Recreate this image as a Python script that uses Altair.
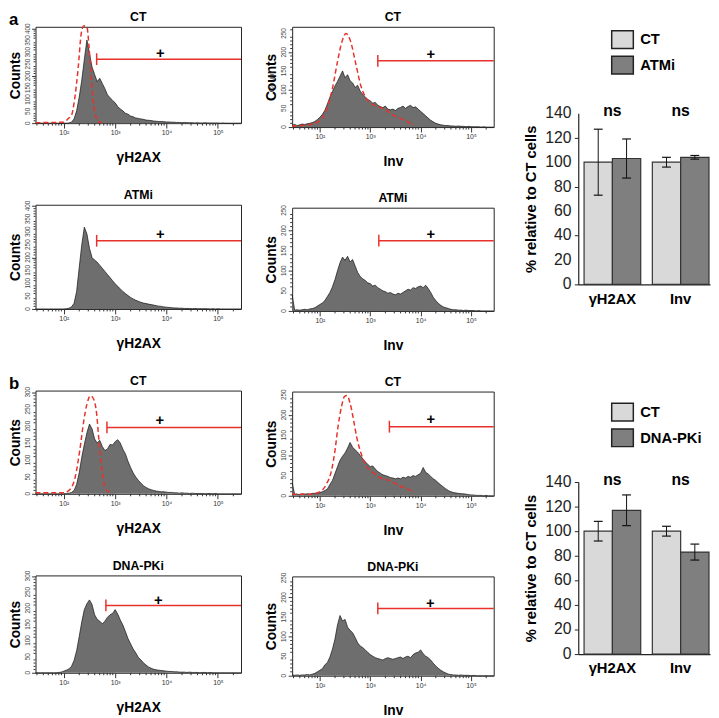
import math
import altair as alt
import pandas as pd

FONT = "Liberation Sans"
RED = "#e8312a"
HIST_FILL = "#6e6e6e"

# fluorescence channels, log10 units
U = [round(1.45 + 0.05 * i, 2) for i in range(81)]

# ---- histogram counts ----
H_A_CT_G = [0,0,0,0,0,0,0,0,0,0,
            0,0,0,1,4,18,52,110,182,270,
            352,296,238,206,176,190,168,146,120,108,
            96,86,70,60,52,42,38,30,27,22,
            20,18,16,13,12,11,9,8,7,7,
            6,5,5,4,4,3,3,2,3,2,
            2,2,1,2,1,1,2,1,1,1,
            1,1,0,1,0,0,0,0,0,0,
            0]
H_A_CT_I = [5,7,4,6,8,7,9,10,12,15,
            20,26,34,45,62,80,95,110,122,136,
            150,132,140,124,118,106,112,96,88,80,
            74,70,64,66,58,55,52,56,48,46,
            48,44,50,52,56,50,55,58,52,54,
            48,42,36,30,24,18,14,10,8,6,
            5,4,4,3,3,2,3,2,2,1,
            2,1,1,1,1,0,1,0,0,0,
            0]
H_A_ATMI_G = [0,0,0,0,0,0,0,0,0,0,
              0,0,1,3,8,22,68,160,250,318,
              292,236,200,190,182,170,158,146,134,122,
              110,98,88,78,68,60,52,45,39,34,
              30,26,23,21,19,17,15,13,11,10,
              8,7,6,5,4,4,3,3,2,2,
              2,1,2,1,1,1,1,1,0,1,
              0,1,0,0,0,0,0,0,0,0,
              0]
H_A_ATMI_I = [40,2,3,2,3,4,3,5,6,8,
              12,16,20,26,36,46,60,78,100,120,
              134,126,136,122,128,112,96,86,80,76,
              70,68,62,64,58,54,50,48,44,46,
              42,40,44,42,46,50,54,52,58,56,
              60,62,58,64,56,46,34,26,19,14,
              10,8,6,4,3,3,2,2,1,2,
              1,1,1,0,1,0,0,0,0,0,
              0]
H_B_CT_G = [0,0,0,0,0,0,0,0,0,0,
            0,0,1,2,4,10,28,62,108,146,
            180,206,192,162,150,158,140,128,132,146,
            144,154,160,150,132,118,96,78,62,50,
            40,32,24,19,15,12,10,8,7,6,
            6,5,4,4,3,3,2,3,2,2,
            1,2,1,1,1,1,0,1,1,0,
            1,0,0,0,0,0,0,0,0,0,
            0]
H_B_CT_I = [33,3,4,3,5,4,5,4,6,6,
            7,8,10,13,17,28,38,55,72,88,
            98,106,118,132,120,114,108,100,92,84,
            78,72,74,66,60,56,52,50,48,45,
            44,42,44,42,46,44,48,46,50,48,
            52,56,70,58,54,48,42,38,32,27,
            22,17,13,10,8,7,6,5,5,4,
            3,2,2,1,1,1,0,1,0,0,
            0]
H_B_PK_G = [0,0,0,0,0,0,0,0,0,1,
            2,5,8,12,20,38,68,112,158,196,
            214,226,212,180,166,160,152,160,172,180,
            184,196,182,164,148,128,106,90,74,62,
            48,40,31,24,18,14,11,9,8,7,
            6,5,4,4,3,3,2,2,2,1,
            2,1,1,1,0,1,1,0,1,0,
            0,0,0,0,0,0,0,0,0,0,
            0]
H_B_PK_I = [2,1,2,1,2,2,3,2,4,6,
            10,14,18,28,34,48,68,94,130,154,
            140,144,124,116,110,98,84,76,72,66,
            60,54,50,46,44,42,40,44,46,44,
            42,44,46,48,44,48,50,46,54,58,
            60,66,56,50,46,40,32,25,19,14,
            10,7,4,3,2,2,1,2,1,1,
            1,0,1,0,0,0,0,0,0,0,
            0]

# ---- dashed control curves ----
C1_U = [1.45, 1.80, 2.00, 2.09, 2.15, 2.21, 2.28, 2.34, 2.39, 2.45, 2.49, 2.52, 2.57, 2.62, 2.69, 2.74]
C1_C = [2, 3, 4, 20, 33, 100, 233, 380, 412, 407, 327, 233, 100, 33, 4, 2]
C2_U = [1.45, 1.70, 1.92, 2.05, 2.15, 2.25, 2.35, 2.44, 2.52, 2.61, 2.71, 2.81, 2.91, 3.04, 3.17, 3.31, 3.44, 3.57, 3.74, 3.87]
C2_C = [3, 5, 11, 25, 54, 104, 175, 229, 250, 229, 171, 112, 79, 61, 54, 46, 33, 25, 14, 6]
C5_U = [1.45, 1.99, 2.12, 2.22, 2.31, 2.39, 2.45, 2.52, 2.58, 2.64, 2.68, 2.73, 2.78, 2.84, 2.94]
C5_C = [3, 3, 13, 48, 127, 216, 265, 290, 280, 236, 166, 87, 33, 10, 3]
C6_U = [1.45, 1.82, 1.97, 2.07, 2.13, 2.23, 2.30, 2.36, 2.43, 2.49, 2.54, 2.60, 2.67, 2.73, 2.82, 2.92, 3.05, 3.21, 3.38, 3.57, 3.74, 3.87]
C6_C = [4, 4, 8, 17, 29, 62, 112, 171, 221, 246, 248, 229, 187, 146, 104, 75, 58, 44, 38, 25, 17, 8]

# ---- bar charts ----
GROUPS = ["γH2AX", "Inv"]
CONDS_A = ["CT", "ATMi"]
MEAN_A = [100, 103, 100, 104]
ERR_A = [27, 16, 4, 1.5]
CONDS_B = ["CT", "DNA-PKi"]
MEAN_B = [100, 117, 100, 83]
ERR_B = [8, 12.5, 4, 6.5]
SIG = ["ns", "ns"]
BAR_TICKS = [0, 20, 40, 60, 80, 100, 120, 140]

U_MIN, U_MAX = 1.45, 5.45
ALL_XTICKS = sorted({round(math.log10(m * 10 ** n), 4) for n in range(1, 6) for m in range(1, 10)
                     if U_MIN <= math.log10(m * 10 ** n) <= U_MAX})
MAJOR_XTICKS = [v for v in ALL_XTICKS if abs(v - round(v)) < 1e-6]
MINOR_XTICKS = [v for v in ALL_XTICKS if abs(v - round(v)) >= 1e-6]
X_LABEL = ("datum.value == 2 ? '10²' : datum.value == 3 ? '10³' : "
           "datum.value == 4 ? '10⁴' : datum.value == 5 ? '10⁵' : ''")

BAR_K = 61  # extra room on the left of the bar plot (keeps column spacing even)


def hist_panel(counts, ymax, title, xtitle, gate_u, gate_c, plus_u, plus_c, width, height,
               cu=None, cc=None, letter=None, extra=None):
    hist = pd.DataFrame({"u": U, "count": counts})
    x_enc = alt.X("u:Q", scale=alt.Scale(domain=[U_MIN, U_MAX], nice=False, zero=False),
                  axis=alt.Axis(values=MAJOR_XTICKS, labelExpr=X_LABEL, labelOverlap=False,
                                labelFlush=False, tickSize=5, labelFontSize=7, labelPadding=1,
                                labelColor="#333", tickColor="#333", domain=False, grid=False,
                                title=xtitle, titleFontSize=14, titleFontWeight="bold", titlePadding=15,
                                titleColor="black", labelFont=FONT, titleFont=FONT))
    ymajor = list(range(0, ymax + 1, 50))
    y_enc = alt.Y("count:Q", scale=alt.Scale(domain=[0, ymax], nice=False),
                  axis=alt.Axis(values=ymajor, labels=False, tickSize=4, tickColor="#333",
                                domain=False, grid=False, title="Counts", titleFontSize=14,
                                titleFontWeight="bold", titlePadding=9, titleColor="black",
                                titleFont=FONT))
    layers = [alt.Chart(hist).mark_area(color=HIST_FILL, opacity=1,
                                        line={"color": "#111", "strokeWidth": 0.7})
              .encode(x=x_enc, y=y_enc)]
    # y tick labels (rotated, small, like the cytometer export)
    layers.append(alt.Chart(pd.DataFrame({"count": ymajor}))
                  .mark_text(fontSize=6.5, font=FONT, angle=270, align="center", baseline="bottom",
                             color="#444")
                  .encode(y="count:Q", text="count:Q", x=alt.value(-5)))
    # minor ticks
    layers.append(alt.Chart(pd.DataFrame({"u": MINOR_XTICKS})).mark_rule(color="#333", strokeWidth=1)
                  .encode(x="u:Q", y=alt.value(height), y2=alt.value(height + 2.5)))
    ymin = [v for v in range(0, ymax + 1, 10) if v % 50 != 0]
    layers.append(alt.Chart(pd.DataFrame({"count": ymin})).mark_rule(color="#333", strokeWidth=1)
                  .encode(y="count:Q", x=alt.value(0), x2=alt.value(-2)))
    if cu is not None:
        layers.append(alt.Chart(pd.DataFrame({"u": cu, "count": cc}))
                      .mark_line(color=RED, strokeDash=[5, 3], strokeWidth=1.5, interpolate="monotone")
                      .encode(x="u:Q", y="count:Q"))
    gate = pd.DataFrame({"u": [gate_u], "u2": [U_MAX], "count": [gate_c]})
    layers.append(alt.Chart(gate).mark_rule(color=RED, strokeWidth=1.5)
                  .encode(x="u:Q", x2="u2:Q", y="count:Q"))
    layers.append(alt.Chart(gate).mark_point(shape="M0,-1L0,1", size=144, color=RED, strokeWidth=1.5,
                                             filled=False, opacity=1)
                  .encode(x="u:Q", y="count:Q"))
    plus = pd.DataFrame({"u": [plus_u], "count": [plus_c], "t": ["+"]})
    layers.append(alt.Chart(plus).mark_text(fontSize=15, fontWeight="bold", font=FONT, color="black")
                  .encode(x="u:Q", y="count:Q", text="t:N"))
    # panel title
    layers.append(alt.Chart(pd.DataFrame({"t": [title]}))
                  .mark_text(fontSize=12.5, fontWeight="bold", font=FONT, align="center", baseline="bottom",
                             color="black")
                  .encode(text="t:N", x=alt.value(width / 2), y=alt.value(-3)))
    if letter is not None:
        layers.append(alt.Chart(pd.DataFrame({"t": [letter]}))
                      .mark_text(fontSize=17, fontWeight="bold", font=FONT, align="left", baseline="top",
                                 color="black")
                      .encode(text="t:N", x=alt.value(-27), y=alt.value(-15)))
    if extra is not None:
        layers.append(alt.Chart(pd.DataFrame({"t": [extra]}))
                      .mark_text(fontSize=8, font=FONT, angle=270, color="#222")
                      .encode(text="t:N", x=alt.value(-20), y=alt.value(56)))
    return alt.layer(*layers).properties(width=width, height=height)


def bar_panel(conds, means, errs, height, yrange, legend_y):
    df = pd.DataFrame({
        "group": [g for g in GROUPS for _ in conds],
        "cond": conds * 2,
        "mean": means,
        "lo": [m - e for m, e in zip(means, errs)],
        "hi": [m + e for m, e in zip(means, errs)],
    })
    sig = pd.DataFrame({"group": GROUPS, "sig": SIG})
    x_enc = alt.X("group:N", sort=GROUPS,
                  scale=alt.Scale(domain=GROUPS, range=[BAR_K, BAR_K + 134], paddingInner=0.17,
                                  paddingOuter=0.05, align=0.85),
                  axis=alt.Axis(title=None, labelFontSize=15, labelFontWeight="bold", labelAngle=0,
                                ticks=False, labelPadding=7, domainColor="#222", domainWidth=1.2,
                                labelColor="black", labelFont=FONT))
    xo = alt.XOffset("cond:N", sort=conds, scale=alt.Scale(domain=conds, paddingInner=0, paddingOuter=0))
    y_enc = alt.Y("mean:Q", scale=alt.Scale(domain=[0, 140], range=yrange, nice=False, zero=True),
                  axis=alt.Axis(values=BAR_TICKS, labels=False, offset=-BAR_K,
                                title="% relative to CT cells", titleFontSize=15, titleFontWeight="bold",
                                titlePadding=36, titleColor="black", tickSize=4, tickColor="#222",
                                domainColor="#222", domainWidth=1.2, grid=False, titleFont=FONT))
    color = alt.Color("cond:N", sort=conds,
                      scale=alt.Scale(domain=conds, range=["#d9d9d9", "#7f7f7f"]),
                      legend=alt.Legend(orient="none", legendX=BAR_K + 34, legendY=legend_y, title=None,
                                        symbolType="M-1.1,-0.9H1.1V0.9H-1.1Z", symbolSize=400,
                                        symbolStrokeColor="#222", symbolStrokeWidth=1.5, symbolOpacity=1,
                                        labelFontSize=15, labelFontWeight="bold", labelFont=FONT,
                                        labelColor="black", rowPadding=2, labelOffset=7, padding=0))
    bars = alt.Chart(df).mark_bar(stroke="#333", strokeWidth=1.2, opacity=1).encode(
        x=x_enc, xOffset=xo, y=y_enc, color=color)
    rules = alt.Chart(df).mark_rule(color="#111", strokeWidth=1).encode(
        x=alt.X("group:N", sort=GROUPS), xOffset=alt.XOffset("cond:N", sort=conds),
        y="lo:Q", y2="hi:Q")
    cap_lo = alt.Chart(df).mark_tick(color="#111", size=9, thickness=1.2, opacity=1).encode(
        x=alt.X("group:N", sort=GROUPS), xOffset=alt.XOffset("cond:N", sort=conds), y="lo:Q")
    cap_hi = alt.Chart(df).mark_tick(color="#111", size=9, thickness=1.2, opacity=1).encode(
        x=alt.X("group:N", sort=GROUPS), xOffset=alt.XOffset("cond:N", sort=conds), y="hi:Q")
    ns = alt.Chart(sig).mark_text(fontSize=16, fontWeight="bold", font=FONT, baseline="middle", dy=-2,
                                  color="black").encode(
        x=alt.X("group:N", sort=GROUPS), y=alt.datum(140), text="sig:N")
    ylabels = alt.Chart(pd.DataFrame({"mean": BAR_TICKS})).mark_text(
        fontSize=16, font=FONT, align="right", baseline="middle", color="#222").encode(
        y="mean:Q", text="mean:Q", x=alt.value(BAR_K - 7))
    return alt.layer(bars, rules, cap_lo, cap_hi, ns, ylabels).properties(
        width=BAR_K + 134, height=height, view=alt.ViewBackground(stroke="transparent"))


P1 = hist_panel(H_A_CT_G, 408, "CT", "γH2AX", 2.64, 271, 3.88, 297, 209, 98, C1_U, C1_C, letter="a")
P2 = hist_panel(H_A_CT_I, 268, "CT", "Inv", 3.15, 177, 4.20, 194, 205, 102, C2_U, C2_C, extra="Count")
P3 = hist_panel(H_A_ATMI_G, 405, "ATMi", "γH2AX", 2.64, 265, 3.88, 292, 209, 106)
P4 = hist_panel(H_A_ATMI_I, 257, "ATMi", "Inv", 3.17, 175, 4.20, 192, 205, 105)
P5 = hist_panel(H_B_CT_G, 305, "CT", "γH2AX", 2.84, 196, 3.87, 218, 209, 105, C5_U, C5_C, letter="b")
P6 = hist_panel(H_B_CT_I, 258, "CT", "Inv", 3.38, 171, 4.20, 189, 205, 106, C6_U, C6_C)
P7 = hist_panel(H_B_PK_G, 302, "DNA-PKi", "γH2AX", 2.82, 209, 3.84, 227, 209, 99)
P8 = hist_panel(H_B_PK_I, 254, "DNA-PKi", "Inv", 3.15, 172, 4.19, 187, 205, 101)

BAR_A = bar_panel(CONDS_A, MEAN_A, ERR_A, 262, [262, 88], 2)
BAR_B = bar_panel(CONDS_B, MEAN_B, ERR_B, 356, [356, 181], 99)

col1 = alt.vconcat(P1, P3, P5, P7, spacing=83, bounds="flush")
col2 = alt.vconcat(P2, P4, P6, P8, spacing=82, bounds="flush")
col3 = alt.vconcat(BAR_A, BAR_B, spacing=20, bounds="flush").resolve_scale(
    color="independent", xOffset="independent", x="independent", y="independent").resolve_legend(
    color="independent")

chart = alt.hconcat(col1, col2, col3, spacing=22,
                    padding={"top": -4, "left": 0, "right": 0, "bottom": 0}).configure(
    font=FONT).configure_view(stroke="#222", strokeWidth=1)

chart.save("out.html", embed_options={"renderer": "svg", "actions": False})
